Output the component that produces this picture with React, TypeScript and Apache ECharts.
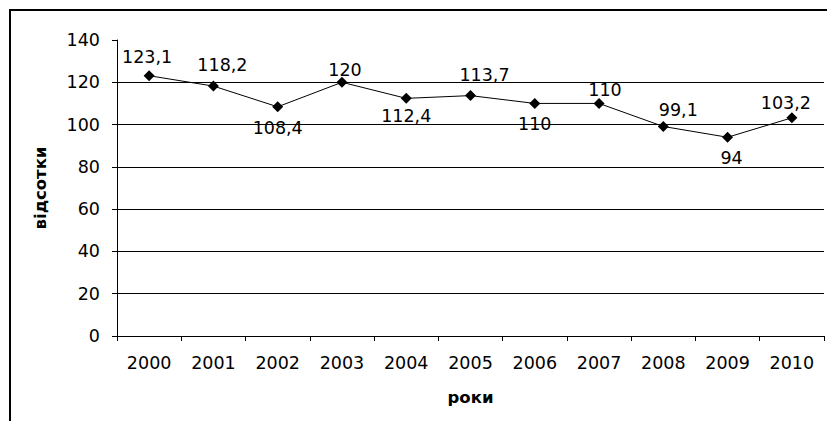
import React, { useEffect, useRef } from "react";
import * as echarts from "echarts";

const years = ["2000", "2001", "2002", "2003", "2004", "2005", "2006", "2007", "2008", "2009", "2010"];
const values = [123.1, 118.2, 108.4, 120, 112.4, 113.7, 110, 110, 99.1, 94, 103.2];
const yTicks = [0, 20, 40, 60, 80, 100, 120, 140];
const yAxisName = "відсотки";
const xAxisName = "роки";

// label placement (style only): offsets from the marker, in pixels
const labelOffsets: [number, number][] = [
  [-2, -19], [9, -21], [0, 21], [3, -12], [0, 18], [14, -21],
  [0, 21], [6, -13], [15, -16], [4, 21], [-6, -15],
];

const FONT = "DejaVu Sans";

export default function App() {
  const ref = useRef<HTMLDivElement>(null);
  useEffect(() => {
    if (!ref.current) return;
    const chart = echarts.init(ref.current, null, { renderer: "svg" });
    const fmt = (v: number) => String(v).replace(".", ",");
    chart.setOption({
      animation: false,
      backgroundColor: "#fff",
      grid: { left: 117, right: 3, top: 40, bottom: 85, containLabel: false },
      graphic: [
        {
          type: "rect",
          shape: { x: 10, y: 10, width: 840, height: 440 },
          style: { fill: "none", stroke: "#000", lineWidth: 2 },
          silent: true,
        },
      ],
      xAxis: {
        type: "category",
        data: years,
        boundaryGap: true,
        name: xAxisName,
        nameLocation: "middle",
        nameGap: 53,
        nameTextStyle: { fontFamily: FONT, fontSize: 16.5, fontWeight: "bold", color: "#000" },
        axisLine: { lineStyle: { color: "#000", width: 1 } },
        axisTick: { show: true, length: 5, alignWithLabel: false, lineStyle: { color: "#000" } },
        axisLabel: { interval: 0, margin: 18, fontFamily: FONT, fontSize: 17.5, color: "#000" },
        splitLine: { show: false },
      },
      yAxis: {
        type: "value",
        min: yTicks[0],
        max: yTicks[yTicks.length - 1],
        interval: yTicks[1] - yTicks[0],
        name: yAxisName,
        nameLocation: "middle",
        nameGap: 68,
        nameRotate: 90,
        nameTextStyle: { fontFamily: FONT, fontSize: 16.5, fontWeight: "bold", color: "#000" },
        axisLine: { show: true, lineStyle: { color: "#000", width: 1 } },
        axisTick: { show: true, length: 5, lineStyle: { color: "#000" } },
        axisLabel: { margin: 17, fontFamily: FONT, fontSize: 17.5, color: "#000" },
        splitLine: {
          show: true,
          lineStyle: {
            color: ["#000", "#000", "#000", "#000", "#000", "#000", "#000", "rgba(0,0,0,0)"],
            width: 1,
          },
        },
      },
      series: [
        {
          type: "line",
          data: values.map((v, i) => ({
            value: v,
            label: { offset: labelOffsets[i] },
          })),
          symbol: "diamond",
          symbolSize: 11,
          itemStyle: { color: "#000" },
          lineStyle: { color: "#000", width: 1 },
          label: {
            show: true,
            position: "inside",
            fontFamily: FONT,
            fontSize: 17.5,
            color: "#000",
            formatter: (p: any) => fmt(p.value),
          },
        },
      ],
    });
    return () => chart.dispose();
  }, []);
  return (
    <div
      ref={ref}
      style={{ position: "fixed", left: 0, top: 0, width: 827, height: 421 }}
    />
  );
}
